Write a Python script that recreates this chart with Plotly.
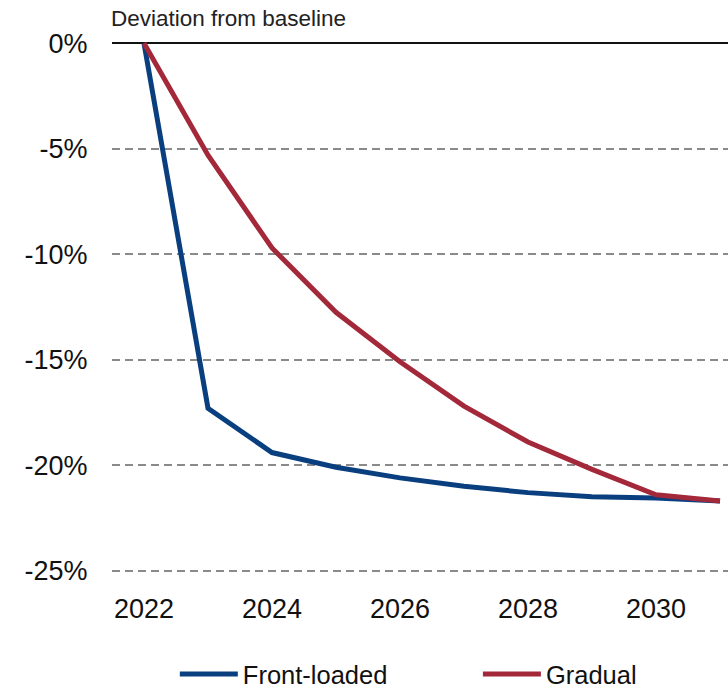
import plotly.graph_objects as go

# Years and simulated deviation from baseline (%)
years = [2022, 2023, 2024, 2025, 2026, 2027, 2028, 2029, 2030, 2031]
front_loaded = [0.0, -17.3, -19.4, -20.1, -20.6, -21.0, -21.3, -21.5, -21.55, -21.7]
gradual = [0.0, -5.3, -9.7, -12.75, -15.1, -17.2, -18.9, -20.2, -21.4, -21.7]

y_ticks = [0, -5, -10, -15, -20, -25]
y_tick_labels = ["0%", "-5%", "-10%", "-15%", "-20%", "-25%"]
x_ticks = [2022, 2024, 2026, 2028, 2030]

BLUE = "#0A3F7F"
RED = "#A3283A"
FONT = "Liberation Sans, Arial, sans-serif"

fig = go.Figure()
fig.add_trace(go.Scatter(x=years, y=front_loaded, mode="lines", name="Front-loaded",
                         line=dict(color=BLUE, width=5), legend="legend"))
fig.add_trace(go.Scatter(x=years, y=gradual, mode="lines", name="Gradual",
                         line=dict(color=RED, width=5), legend="legend2"))

legend_style = dict(orientation="h", xanchor="left", yref="container",
                    y=0.024, yanchor="middle", font=dict(size=25.5, color="#111"),
                    itemwidth=58, bgcolor="rgba(0,0,0,0)")

fig.update_layout(
    width=728, height=691,
    margin=dict(l=112, r=0, t=37, b=114),
    paper_bgcolor="white", plot_bgcolor="white",
    font=dict(family=FONT, size=27, color="#111"),
    showlegend=True,
    legend=dict(x=0.102, **legend_style),
    legend2=dict(x=0.594, **legend_style),
    annotations=[dict(text="Deviation from baseline", xref="paper", yref="paper",
                      x=0, xanchor="left", xshift=-3, y=1, yanchor="bottom", yshift=4,
                      showarrow=False, font=dict(size=22.5, color="#222"))],
)

fig.update_xaxes(range=[2021.5, 2031.125], tickvals=x_ticks, showgrid=False,
                 zeroline=False, showline=False, ticks="outside", ticklen=8,
                 tickcolor="rgba(0,0,0,0)", tickfont=dict(size=27))
fig.update_yaxes(range=[-25.3, 0.3], tickvals=y_ticks, ticktext=y_tick_labels,
                 showgrid=True, gridcolor="#8a8a8a", gridwidth=2, griddash="8px,5px",
                 zeroline=True, zerolinecolor="#111", zerolinewidth=2,
                 showline=False, ticks="outside", ticklen=18,
                 tickcolor="rgba(0,0,0,0)", tickfont=dict(size=27))

fig.write_html("out.html")
